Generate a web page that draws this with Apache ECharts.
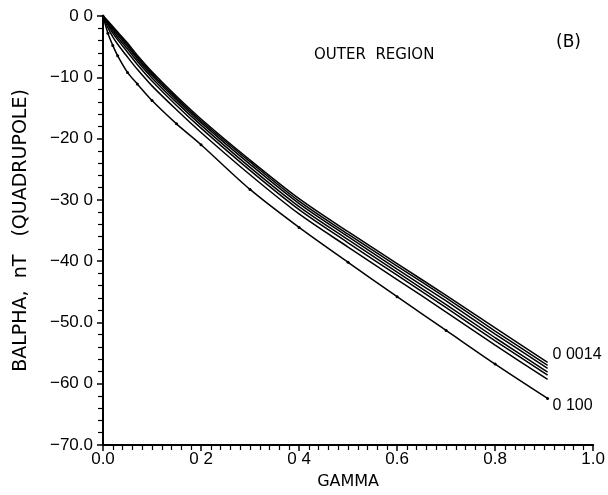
<!DOCTYPE html>
<html>
<head>
<meta charset="utf-8">
<script src="https://cdn.jsdelivr.net/npm/echarts@6/dist/echarts.min.js"></script>
<style>
html,body{margin:0;padding:0;background:#fff;}
#chart{width:608px;height:495px;}
</style>
</head>
<body>
<div id="chart"></div>
<script>
// GAMMA sample positions
var gamma = [0, 0.01, 0.02, 0.03, 0.05, 0.07, 0.1, 0.15, 0.2, 0.3, 0.4, 0.5, 0.6, 0.7, 0.8, 0.907];
// BALPHA (nT, quadrupole) curves, top (0.0014) to bottom (0.100)
var curve1 = [0, -0.8, -1.7, -2.6, -4.4, -6.4, -9.1, -13.1, -16.8, -23.5, -29.8, -35.2, -40.4, -45.6, -50.9, -56.5];
var curve2 = [0, -0.9, -1.9, -2.8, -4.7, -6.7, -9.4, -13.4, -17.1, -23.8, -30.2, -35.6, -40.8, -46.0, -51.4, -57.0];
var curve3 = [0, -1.0, -2.1, -3.1, -5.0, -7.0, -9.7, -13.7, -17.4, -24.2, -30.6, -36.0, -41.3, -46.5, -51.9, -57.5];
var curve4 = [0, -1.2, -2.4, -3.5, -5.4, -7.4, -10.1, -14.1, -17.8, -24.7, -31.1, -36.5, -41.8, -47.1, -52.5, -58.1];
var curve5 = [0, -1.4, -2.8, -3.9, -5.9, -7.9, -10.6, -14.6, -18.3, -25.2, -31.6, -37.0, -42.3, -47.6, -53.0, -58.6];
var curve6 = [0, -1.9, -3.4, -4.6, -6.7, -8.7, -11.4, -15.3, -19.0, -25.9, -32.3, -37.7, -43.0, -48.3, -53.7, -59.3];
var curve7 = [0, -2.8, -4.8, -6.5, -9.2, -11.1, -13.8, -17.6, -21.0, -28.3, -34.5, -40.2, -45.8, -51.3, -56.8, -62.4];
var curveLabels = ['0 0014', '', '', '', '', '', '0 100'];
// Tick labels as printed
var xTickLabels = ['0.0', '0 2', '0 4', '0.6', '0.8', '1.0'];
var yTickLabels = ['0 0', '\u221210 0', '\u221220 0', '\u221230 0', '\u221240 0', '\u221250.0', '\u221260 0', '\u221270.0'];

var FONT = 'Liberation Sans, Arial, sans-serif';
var WIDE = 'DejaVu Sans, Liberation Sans, sans-serif';
var curves = [curve1, curve2, curve3, curve4, curve5, curve6, curve7];

function pairs(vals) {
  return gamma.map(function (g, i) { return [g, vals[i]]; });
}

var series = curves.map(function (vals, k) {
  var isBottom = (k === curves.length - 1);
  var s = {
    type: 'line',
    data: pairs(vals),
    smooth: 0.3,
    showSymbol: isBottom,
    symbol: 'circle',
    symbolSize: 3,
    itemStyle: { color: '#000' },
    lineStyle: { color: '#000', width: 1.5 },
    silent: true,
    animation: false
  };
  if (curveLabels[k]) {
    s.endLabel = {
      show: true,
      formatter: curveLabels[k],
      color: '#000',
      fontFamily: FONT,
      fontSize: 16,
      distance: 5,
      offset: [0, k === 0 ? -8 : 7]
    };
  }
  return s;
});

var chart = echarts.init(document.getElementById('chart'), null, { renderer: 'canvas' });
chart.setOption({
  backgroundColor: '#fff',
  animation: false,
  grid: { left: 103, right: 12, top: 16, bottom: 50, containLabel: false },
  xAxis: {
    type: 'value', min: 0, max: 1, interval: 0.2,
    name: 'GAMMA', nameLocation: 'middle', nameGap: 29,
    nameTextStyle: { color: '#000', fontFamily: WIDE, fontSize: 16 },
    axisLine: { onZero: false, lineStyle: { color: '#000', width: 2 } },
    axisTick: { inside: false, length: 6, lineStyle: { color: '#000', width: 1.5 } },
    minorTick: { show: true, splitNumber: 10, length: 5, lineStyle: { color: '#000', width: 1.2 } },
    splitLine: { show: false },
    axisLabel: {
      color: '#000', fontFamily: FONT, fontSize: 17, margin: 6,
      formatter: function (v) { return xTickLabels[Math.round(v / 0.2)]; }
    }
  },
  yAxis: {
    type: 'value', min: -70, max: 0, interval: 10,
    name: 'BALPHA,  nT   (QUADRUPOLE)', nameLocation: 'middle', nameGap: 72, nameRotate: 90,
    nameTextStyle: { color: '#000', fontFamily: WIDE, fontSize: 19 },
    axisLine: { onZero: false, lineStyle: { color: '#000', width: 2 } },
    axisTick: { inside: false, length: 6, lineStyle: { color: '#000', width: 1.5 } },
    minorTick: { show: true, splitNumber: 5, length: 5, lineStyle: { color: '#000', width: 1.2 } },
    splitLine: { show: false },
    axisLabel: {
      color: '#000', fontFamily: FONT, fontSize: 17, margin: 10,
      formatter: function (v) { return yTickLabels[Math.round(-v / 10)]; }
    }
  },
  graphic: [
    { type: 'text', left: 314, top: 48, style: { text: 'OUTER  REGION', fill: '#000', font: '15px ' + WIDE } },
    { type: 'text', left: 556, top: 34, style: { text: '(B)', fill: '#000', font: '17px ' + WIDE } }
  ],
  series: series
});
</script>
</body>
</html>
